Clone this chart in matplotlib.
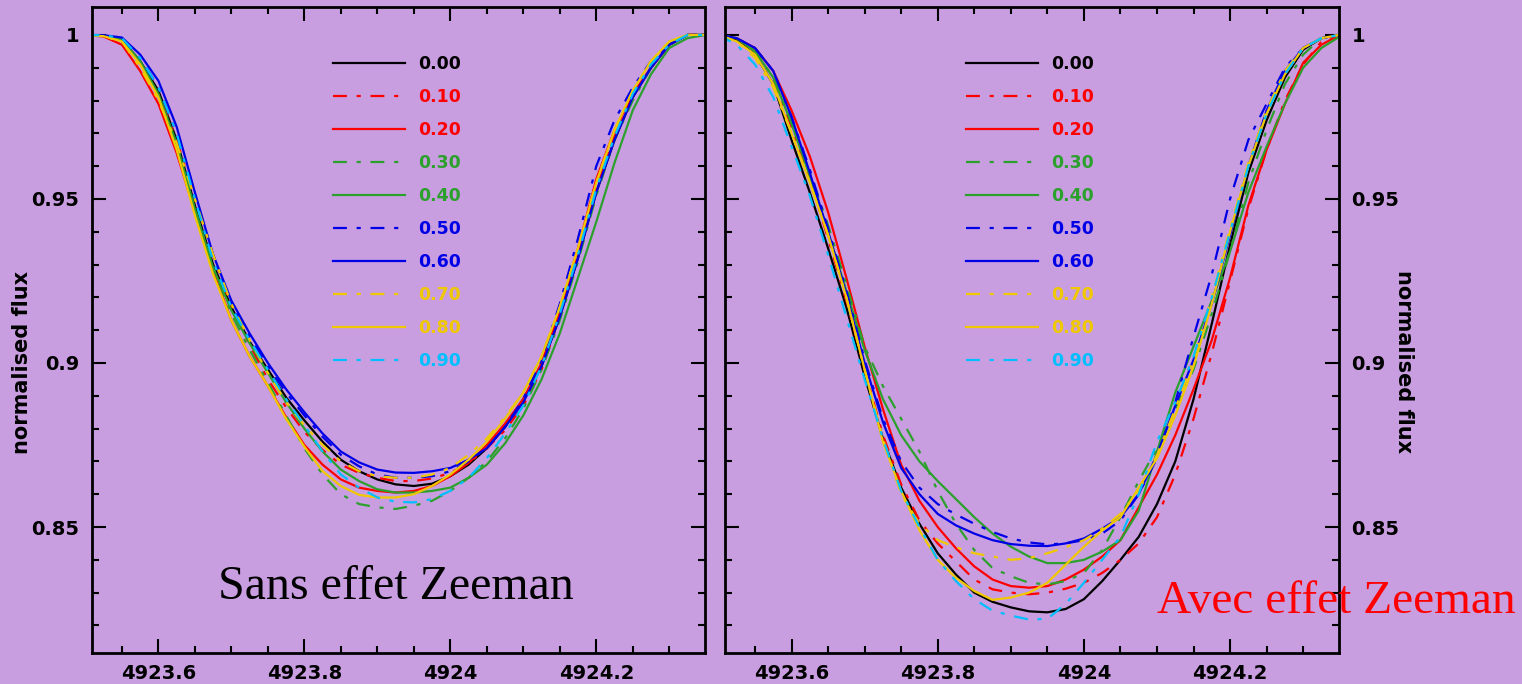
import matplotlib
matplotlib.use("Agg")
import matplotlib.pyplot as plt
from matplotlib.ticker import MultipleLocator, FixedLocator, FuncFormatter

plt.rcParams['lines.scale_dashes'] = False
plt.rcParams['font.family'] = ['DejaVu Sans']

BG = '#C99EE0'
phases = ['0.00', '0.10', '0.20', '0.30', '0.40', '0.50', '0.60', '0.70', '0.80', '0.90']
colors = ['#000000', '#FF0000', '#FF0000', '#2CA02C', '#2CA02C',
          '#0000E6', '#0000E6', '#F0C800', '#F0C800', '#00BFFF']
DASHDOT = (0, (10, 7, 3, 7))
styles = ['-', DASHDOT, '-', DASHDOT, '-', DASHDOT, '-', DASHDOT, '-', DASHDOT]

# wavelength grid (Angstrom), shared by both panels
wavelength = [4923.500, 4923.525, 4923.550, 4923.575, 4923.600, 4923.625, 4923.650, 4923.675,
              4923.700, 4923.725, 4923.750, 4923.775, 4923.800, 4923.825, 4923.850, 4923.875,
              4923.900, 4923.925, 4923.950, 4923.975, 4924.000, 4924.025, 4924.050, 4924.075,
              4924.100, 4924.125, 4924.150, 4924.175, 4924.200, 4924.225, 4924.250, 4924.275,
              4924.300, 4924.325, 4924.350]

# ---------------- left panel: without Zeeman effect ----------------
l00 = [1.000, 0.9998, 0.9985, 0.992, 0.983, 0.968, 0.948, 0.930, 0.917, 0.9065, 0.898, 0.8895, 0.8825,
       0.876, 0.8705, 0.867, 0.8645, 0.863, 0.8625, 0.8632, 0.8655, 0.869, 0.874, 0.8805, 0.889, 0.899,
       0.914, 0.932, 0.952, 0.968, 0.981, 0.990, 0.997, 1.000, 1.000]
l10 = [1.000, 0.9997, 0.998, 0.991, 0.982, 0.968, 0.950, 0.933, 0.917, 0.9055, 0.895, 0.8865, 0.879,
       0.8735, 0.869, 0.8665, 0.865, 0.864, 0.864, 0.8648, 0.8665, 0.8695, 0.874, 0.8795, 0.887, 0.898,
       0.914, 0.933, 0.953, 0.969, 0.981, 0.990, 0.997, 1.000, 1.000]
l20 = [1.000, 0.9995, 0.997, 0.989, 0.979, 0.964, 0.946, 0.928, 0.913, 0.902, 0.893, 0.8835, 0.875,
       0.869, 0.8645, 0.862, 0.861, 0.8605, 0.861, 0.8625, 0.8655, 0.8695, 0.875, 0.8815, 0.889, 0.900,
       0.916, 0.935, 0.956, 0.971, 0.982, 0.990, 0.997, 1.000, 1.000]
l30 = [1.000, 0.9997, 0.998, 0.991, 0.981, 0.966, 0.947, 0.929, 0.915, 0.904, 0.894, 0.884, 0.874,
       0.866, 0.860, 0.857, 0.856, 0.8555, 0.8565, 0.858, 0.861, 0.865, 0.870, 0.877, 0.886, 0.898,
       0.913, 0.931, 0.951, 0.968, 0.980, 0.990, 0.997, 1.000, 1.000]
l40 = [1.000, 0.9998, 0.9985, 0.992, 0.982, 0.967, 0.947, 0.929, 0.916, 0.906, 0.897, 0.888, 0.880,
       0.873, 0.8675, 0.864, 0.8615, 0.8605, 0.8605, 0.861, 0.862, 0.865, 0.869, 0.8755, 0.884, 0.895,
       0.909, 0.926, 0.943, 0.961, 0.977, 0.988, 0.996, 0.999, 1.000]
l50 = [1.000, 0.9998, 0.999, 0.993, 0.984, 0.970, 0.950, 0.932, 0.918, 0.908, 0.899, 0.891, 0.884,
       0.8775, 0.872, 0.8685, 0.866, 0.865, 0.865, 0.8655, 0.867, 0.870, 0.874, 0.8805, 0.889, 0.901,
       0.918, 0.938, 0.960, 0.974, 0.984, 0.992, 0.997, 1.000, 1.000]
l60 = [1.000, 0.9999, 0.9992, 0.994, 0.986, 0.972, 0.952, 0.933, 0.919, 0.909, 0.900, 0.892, 0.885,
       0.8785, 0.873, 0.8697, 0.8675, 0.8666, 0.8665, 0.867, 0.868, 0.8705, 0.874, 0.8805, 0.888, 0.899,
       0.914, 0.932, 0.952, 0.968, 0.981, 0.990, 0.997, 1.000, 1.000]
l70 = [1.000, 0.9996, 0.998, 0.990, 0.980, 0.967, 0.950, 0.933, 0.918, 0.907, 0.897, 0.888, 0.881,
       0.875, 0.870, 0.867, 0.8655, 0.865, 0.865, 0.866, 0.868, 0.872, 0.877, 0.8835, 0.891, 0.902,
       0.917, 0.935, 0.955, 0.971, 0.983, 0.992, 0.998, 1.000, 1.000]
l80 = [1.000, 0.9996, 0.998, 0.991, 0.981, 0.965, 0.945, 0.927, 0.913, 0.902, 0.893, 0.883, 0.8745,
       0.867, 0.8625, 0.8598, 0.859, 0.859, 0.860, 0.8625, 0.866, 0.8705, 0.876, 0.883, 0.891, 0.902,
       0.917, 0.935, 0.955, 0.971, 0.983, 0.992, 0.998, 1.000, 1.000]
l90 = [1.000, 0.9999, 0.999, 0.993, 0.984, 0.970, 0.950, 0.931, 0.917, 0.907, 0.898, 0.889, 0.881,
       0.873, 0.866, 0.862, 0.859, 0.8577, 0.8575, 0.8585, 0.861, 0.865, 0.871, 0.8785, 0.887, 0.899,
       0.915, 0.933, 0.953, 0.969, 0.982, 0.991, 0.997, 1.000, 1.000]
left_series = [l00, l10, l20, l30, l40, l50, l60, l70, l80, l90]

# ---------------- right panel: with Zeeman effect ----------------
r00 = [1.000, 0.9985, 0.994, 0.985, 0.968, 0.952, 0.935, 0.917, 0.896, 0.877, 0.862, 0.851, 0.842,
       0.8355, 0.830, 0.8272, 0.8255, 0.8243, 0.824, 0.825, 0.828, 0.8335, 0.840, 0.847, 0.857, 0.870,
       0.889, 0.912, 0.936, 0.958, 0.974, 0.987, 0.9955, 0.999, 1.000]
r10 = [1.000, 0.999, 0.995, 0.987, 0.972, 0.956, 0.938, 0.919, 0.898, 0.878, 0.863, 0.852, 0.845,
       0.8395, 0.834, 0.831, 0.830, 0.8295, 0.830, 0.8312, 0.833, 0.836, 0.840, 0.845, 0.853, 0.866,
       0.883, 0.903, 0.925, 0.947, 0.965, 0.980, 0.991, 0.998, 1.000]
r20 = [1.000, 0.999, 0.996, 0.989, 0.977, 0.963, 0.946, 0.926, 0.905, 0.886, 0.869, 0.858, 0.850,
       0.8435, 0.838, 0.834, 0.832, 0.8315, 0.832, 0.834, 0.837, 0.841, 0.846, 0.856, 0.866, 0.878,
       0.892, 0.907, 0.926, 0.948, 0.965, 0.979, 0.9915, 0.997, 1.000]
r30 = [1.000, 0.999, 0.995, 0.987, 0.973, 0.958, 0.942, 0.924, 0.905, 0.893, 0.883, 0.873, 0.861,
       0.851, 0.843, 0.8375, 0.835, 0.833, 0.8325, 0.8335, 0.836, 0.843, 0.853, 0.864, 0.874, 0.886,
       0.898, 0.915, 0.934, 0.955, 0.971, 0.985, 0.994, 0.999, 1.000]
r40 = [1.000, 0.999, 0.995, 0.987, 0.973, 0.957, 0.940, 0.922, 0.904, 0.889, 0.878, 0.870, 0.864,
       0.8585, 0.853, 0.848, 0.844, 0.841, 0.839, 0.839, 0.840, 0.8425, 0.846, 0.855, 0.873, 0.891,
       0.905, 0.919, 0.934, 0.952, 0.966, 0.979, 0.990, 0.996, 0.9995]
r50 = [1.000, 0.999, 0.996, 0.989, 0.975, 0.959, 0.941, 0.922, 0.901, 0.883, 0.870, 0.862, 0.857,
       0.8538, 0.851, 0.8485, 0.8465, 0.8453, 0.8447, 0.845, 0.846, 0.848, 0.852, 0.860, 0.871, 0.888,
       0.908, 0.927, 0.950, 0.968, 0.979, 0.990, 0.996, 0.999, 1.000]
r60 = [1.000, 0.999, 0.996, 0.989, 0.975, 0.958, 0.940, 0.921, 0.900, 0.882, 0.868, 0.860, 0.854,
       0.8505, 0.848, 0.846, 0.8448, 0.8443, 0.8442, 0.845, 0.8465, 0.8495, 0.853, 0.860, 0.872, 0.887,
       0.901, 0.918, 0.939, 0.960, 0.977, 0.989, 0.996, 0.999, 1.000]
r70 = [1.000, 0.998, 0.993, 0.984, 0.970, 0.955, 0.939, 0.920, 0.898, 0.877, 0.860, 0.851, 0.846,
       0.8438, 0.842, 0.841, 0.840, 0.8405, 0.842, 0.8438, 0.846, 0.8495, 0.854, 0.861, 0.872, 0.886,
       0.901, 0.920, 0.941, 0.961, 0.977, 0.989, 0.996, 0.999, 1.000]
r80 = [1.000, 0.998, 0.994, 0.985, 0.970, 0.955, 0.939, 0.920, 0.898, 0.876, 0.861, 0.849, 0.840,
       0.8345, 0.8305, 0.8278, 0.8285, 0.830, 0.833, 0.8385, 0.844, 0.849, 0.853, 0.862, 0.871, 0.884,
       0.899, 0.918, 0.940, 0.960, 0.976, 0.988, 0.996, 0.999, 1.000]
r90 = [1.000, 0.997, 0.991, 0.981, 0.966, 0.951, 0.933, 0.914, 0.895, 0.877, 0.861, 0.850, 0.840,
       0.8335, 0.828, 0.8245, 0.823, 0.8218, 0.822, 0.8265, 0.833, 0.840, 0.847, 0.860, 0.876, 0.888,
       0.902, 0.920, 0.940, 0.960, 0.976, 0.988, 0.996, 0.999, 1.000]
right_series = [r00, r10, r20, r30, r40, r50, r60, r70, r80, r90]

XLIM = (4923.509, 4924.349)
YLIM = (0.8116, 1.0085)
xmajor = [4923.6, 4923.8, 4924.0, 4924.2]
ymajor = [0.85, 0.90, 0.95, 1.00]

W, H = 1522, 684
fig = plt.figure(figsize=(W / 100, H / 100), dpi=100)
fig.patch.set_facecolor(BG)

axL = fig.add_axes([92 / W, 1 - 653 / H, 613 / W, 646 / H])
axR = fig.add_axes([725 / W, 1 - 653 / H, 614 / W, 646 / H])

fmt = FuncFormatter(lambda v, p: ('%.4f' % v).rstrip('0').rstrip('.'))

for ax, series in [(axL, left_series), (axR, right_series)]:
    ax.set_facecolor(BG)
    for ys, c, ls, lab in zip(series, colors, styles, phases):
        ax.plot(wavelength, ys, color=c, linestyle=ls, linewidth=1.6, label=lab)
    ax.set_xlim(*XLIM)
    ax.set_ylim(*YLIM)
    ax.xaxis.set_major_locator(FixedLocator(xmajor))
    ax.xaxis.set_minor_locator(MultipleLocator(0.05))
    ax.yaxis.set_major_locator(FixedLocator(ymajor))
    ax.yaxis.set_minor_locator(MultipleLocator(0.01))
    ax.xaxis.set_major_formatter(fmt)
    ax.yaxis.set_major_formatter(fmt)
    ax.tick_params(which='both', direction='in', top=True, right=True, bottom=True, left=True,
                   width=1.5, color='black')
    ax.tick_params(which='major', length=10)
    ax.tick_params(which='minor', length=5)
    ax.tick_params(axis='x', which='major', pad=8, labelsize=14)
    ax.tick_params(axis='y', which='major', pad=9, labelsize=14)
    for sp in ax.spines.values():
        sp.set_linewidth(2)
        sp.set_color('black')
    ax.legend(loc='upper left', bbox_to_anchor=(0.3925, 0.9253), frameon=False,
              borderpad=0, borderaxespad=0, prop={'size': 12.5, 'weight': 'bold'},
              handlelength=4.15, handletextpad=0.75, labelspacing=0.86,
              labelcolor='linecolor')

axL.tick_params(axis='y', labelleft=True, labelright=False)
axR.tick_params(axis='y', labelleft=False, labelright=True)
for ax in (axL, axR):
    for lbl in ax.xaxis.get_ticklabels() + ax.yaxis.get_ticklabels():
        lbl.set_fontweight('bold')
    for t in ax.yaxis.get_major_ticks():
        t.label2.set_fontweight('bold')

fig.text(22 / W, 1 - 362 / H, 'normalised flux', rotation=90, ha='center', va='center',
         fontsize=15, fontweight='bold')
fig.text(1404 / W, 1 - 362 / H, 'normalised flux', rotation=270, ha='center', va='center',
         fontsize=15, fontweight='bold')

fig.text(396 / W, 1 - 599 / H, 'Sans effet Zeeman', ha='center', va='baseline',
         family='Liberation Serif', fontsize=34.5, color='black')
fig.text(1336 / W, 1 - 613 / H, 'Avec effet Zeeman', ha='center', va='baseline',
         family='Liberation Serif', fontsize=34, color='#FF0000')

fig.savefig('out.png', dpi=100, facecolor=BG)
